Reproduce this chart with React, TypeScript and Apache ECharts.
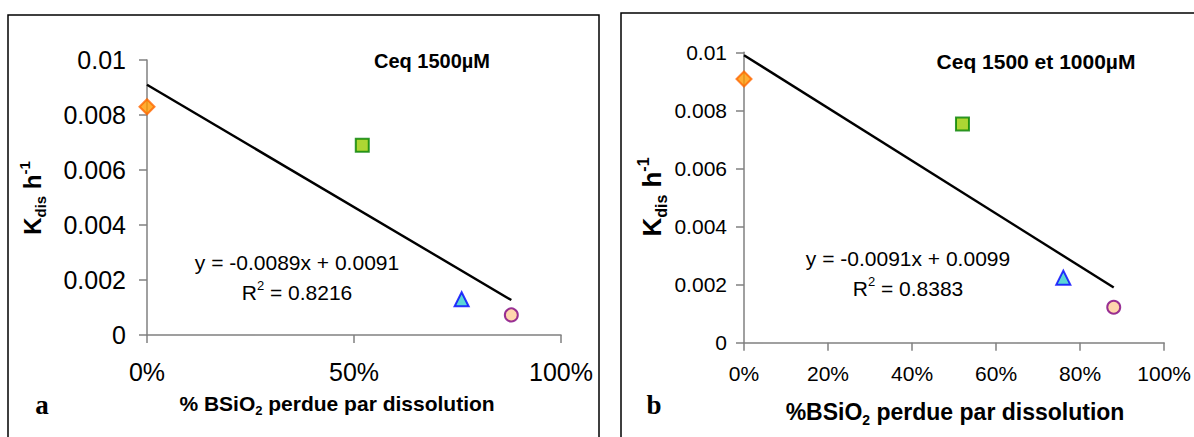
import React, { useEffect, useRef } from "react";
import * as echarts from "echarts";

// ---- data ----
const lossFraction = [0, 0.52, 0.76, 0.88];
const kdisA = [0.0083, 0.0069, 0.0013, 0.00073];
const kdisB = [0.00908, 0.00753, 0.00224, 0.00122];
const trendA: number[][] = [[0, 0.0091], [0.88, 0.00127]];
const trendB: number[][] = [[0, 0.0099], [0.88, 0.0019]];
const eqA = "y = -0.0089x + 0.0091";
const r2A = "0.8216";
const eqB = "y = -0.0091x + 0.0099";
const r2B = "0.8383";
const titleA = "Ceq 1500µM";
const titleB = "Ceq 1500 et 1000µM";

const FONT = "'Liberation Sans', Arial, Helvetica, sans-serif";
const SERIF = "'Liberation Serif', 'Times New Roman', serif";

const markerStyles = [
  { symbol: "diamond", size: 15, fill: "#FF9900", stroke: "#FF6600" },
  { symbol: "rect", size: 13, fill: "#99CC00", stroke: "#008000" },
  { symbol: "triangle", size: 14, fill: "#33CCCC", stroke: "#0000FF" },
  { symbol: "circle", size: 13, fill: "#FFCC99", stroke: "#800080" },
];

function rt(size: number, weight: string, extra: any = {}) {
  return {
    fontSize: size,
    fontFamily: FONT,
    fontWeight: weight,
    fill: "#000",
    color: "#000",
    lineHeight: Math.round(size * 1.3),
    ...extra,
  };
}

function richText(x: number, y: number, text: string, size: number, weight: string, rotation = 0) {
  const sub = Math.round(size * 0.62);
  return {
    type: "text",
    x,
    y,
    rotation,
    z: 100,
    style: {
      text,
      align: "center",
      verticalAlign: "middle",
      fontSize: size,
      fontFamily: FONT,
      fontWeight: weight,
      fill: "#000",
      rich: {
        m: rt(size, weight),
        sub: { ...rt(sub, weight), lineHeight: sub, verticalAlign: "bottom" },
        sup: { ...rt(sub, weight), lineHeight: sub, verticalAlign: "top" },
      },
    },
  };
}

function buildAxes(gridIndex: number, xInterval: number, fontSize: number, yMargin: number, xMargin: number) {
  const axisLine = { show: true, lineStyle: { color: "#808080", width: 1.5 } };
  const axisTick = { show: true, inside: false, length: 8, lineStyle: { color: "#808080", width: 1.5 } };
  return {
    x: {
      type: "value",
      gridIndex,
      min: 0,
      max: 1,
      interval: xInterval,
      axisLine,
      axisTick,
      splitLine: { show: false },
      axisLabel: {
        color: "#000",
        fontFamily: FONT,
        fontSize,
        margin: xMargin,
        formatter: (v: number) => Math.round(v * 100) + "%",
      },
    },
    y: {
      type: "value",
      gridIndex,
      min: 0,
      max: 0.01,
      interval: 0.002,
      axisLine,
      axisTick,
      splitLine: { show: false },
      axisLabel: {
        color: "#000",
        fontFamily: FONT,
        fontSize,
        margin: yMargin,
        formatter: (v: number) => (v === 0 ? "0" : String(+v.toFixed(4))),
      },
    },
  };
}

function buildSeries(idx: number, values: number[], trend: number[][]) {
  const s: any[] = values.map((v, i) => ({
    type: "scatter",
    xAxisIndex: idx,
    yAxisIndex: idx,
    clip: false,
    symbol: markerStyles[i].symbol,
    symbolSize: markerStyles[i].size,
    itemStyle: { color: markerStyles[i].fill, borderColor: markerStyles[i].stroke, borderWidth: 2 },
    data: [[lossFraction[i], v]],
    z: 5,
  }));
  s.unshift({
    type: "line",
    xAxisIndex: idx,
    yAxisIndex: idx,
    showSymbol: false,
    symbol: "none",
    lineStyle: { color: "#000", width: 2.4 },
    data: trend,
    z: 3,
  });
  return s;
}

export default function App() {
  const ref = useRef<HTMLDivElement>(null);
  useEffect(() => {
    if (!ref.current) return;
    const chart = echarts.init(ref.current, undefined, { renderer: "svg" });
    const a = buildAxes(0, 0.5, 25, 21, 24);
    const b = buildAxes(1, 0.2, 21, 17, 20);
    const option: any = {
      animation: false,
      backgroundColor: "#fff",
      grid: [
        { left: 147, top: 60, width: 414, height: 275 },
        { left: 744, top: 52.3, width: 421, height: 290.4 },
      ],
      xAxis: [a.x, b.x],
      yAxis: [a.y, b.y],
      series: [...buildSeries(0, kdisA, trendA), ...buildSeries(1, kdisB, trendB)],
      graphic: [
        {
          type: "rect",
          shape: { x: 8, y: 15, width: 591, height: 440 },
          style: { fill: "none", stroke: "#000", lineWidth: 1.5 },
        },
        {
          type: "rect",
          shape: { x: 621, y: 13, width: 590, height: 440 },
          style: { fill: "none", stroke: "#000", lineWidth: 1.5 },
        },
        richText(432, 61, `{m|${titleA}}`, 20, "bold"),
        richText(1036, 61, `{m|${titleB}}`, 21, "bold"),
        richText(297, 262, `{m|${eqA}}`, 21, "normal"),
        richText(297, 292, `{m|R}{sup|2}{m| = ${r2A}}`, 21, "normal"),
        richText(908, 258, `{m|${eqB}}`, 21, "normal"),
        richText(908, 288, `{m|R}{sup|2}{m| = ${r2B}}`, 21, "normal"),
        richText(32, 198, "{m|K}{sub|dis}{m| h}{sup|-1}", 24, "bold", Math.PI / 2),
        richText(652, 197, "{m|K}{sub|dis}{m| h}{sup|-1}", 26, "bold", Math.PI / 2),
        richText(337, 403, "{m|% BSiO}{sub|2}{m| perdue par dissolution}", 21, "bold"),
        richText(955, 412, "{m|%BSiO}{sub|2}{m| perdue par dissolution}", 23, "bold"),
        {
          type: "text",
          x: 42,
          y: 405,
          style: { text: "a", align: "center", verticalAlign: "middle", fontSize: 27, fontFamily: SERIF, fontWeight: "bold", fill: "#000" },
        },
        {
          type: "text",
          x: 654,
          y: 405,
          style: { text: "b", align: "center", verticalAlign: "middle", fontSize: 27, fontFamily: SERIF, fontWeight: "bold", fill: "#000" },
        },
      ],
    };
    chart.setOption(option);
    return () => chart.dispose();
  }, []);
  return (
    <div
      ref={ref}
      style={{ position: "absolute", left: 0, top: 0, width: 1194, height: 437 }}
    />
  );
}
